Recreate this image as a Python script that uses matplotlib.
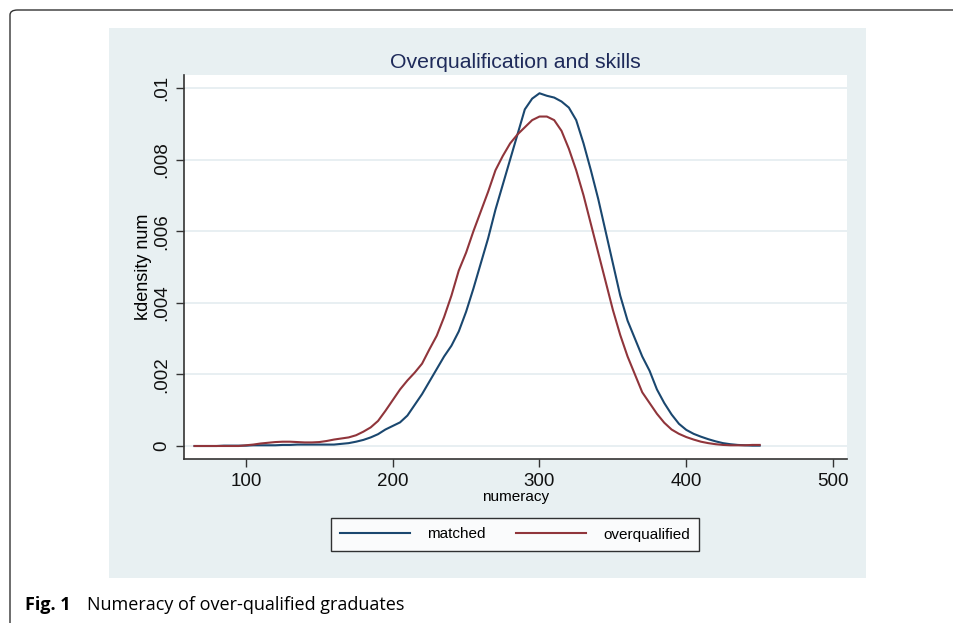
import matplotlib
matplotlib.use("Agg")
import matplotlib.pyplot as plt
from matplotlib.patches import Rectangle, FancyBboxPatch

# numeracy grid (step 5) and kernel density estimates
numeracy = list(range(65, 451, 5))
matched = [0, 0, 0, 0, 0.00001, 0.00001, 0.00001, 0.00001, 0.00002, 0.00002,
           0.00002, 0.00002, 0.00003, 0.00003, 0.00004, 0.00004, 0.00004,
           0.00004, 0.00004, 0.00004, 0.00006, 0.00008, 0.00012, 0.00017,
           0.00024, 0.00033, 0.00046, 0.00056, 0.00066, 0.00085, 0.00115,
           0.00145, 0.0018, 0.00215, 0.0025, 0.0028, 0.0032, 0.00375, 0.0044,
           0.0051, 0.0058, 0.0066, 0.0073, 0.0080, 0.0087, 0.0094, 0.0097,
           0.00985, 0.00978, 0.00973, 0.00962, 0.00945, 0.0091, 0.00845,
           0.0077, 0.0069, 0.0060, 0.0051, 0.0042, 0.0035, 0.0030, 0.0025,
           0.0021, 0.00158, 0.0012, 0.00088, 0.00062, 0.00045, 0.00034,
           0.00026, 0.00019, 0.00013, 0.00008, 0.00005, 0.00003, 0.00002,
           0.00001, 0.00001]
overqualified = [0, 0, 0, 0, 0, 0, 0, 0.00002, 0.00004, 0.00007, 0.00009,
                 0.00011, 0.00012, 0.00012, 0.00011, 0.0001, 0.0001, 0.00011,
                 0.00014, 0.00018, 0.00021, 0.00024, 0.0003, 0.0004, 0.00052,
                 0.0007, 0.00098, 0.00128, 0.00158, 0.00183, 0.00205, 0.0023,
                 0.0027, 0.00308, 0.0036, 0.0042, 0.0049, 0.0054, 0.0060,
                 0.00655, 0.0071, 0.0077, 0.0081, 0.00845, 0.0087, 0.0089,
                 0.0091, 0.0092, 0.0092, 0.0091, 0.0088, 0.0083, 0.0077,
                 0.0070, 0.0062, 0.0054, 0.0046, 0.0038, 0.0031, 0.0025,
                 0.0020, 0.0015, 0.0012, 0.0009, 0.00065, 0.00046, 0.00034,
                 0.00025, 0.00018, 0.00012, 0.00008, 0.00005, 0.00003,
                 0.00002, 0.00002, 0.00002, 0.00003, 0.00003]

xticks = [100, 200, 300, 400, 500]
yticks = [0, 0.002, 0.004, 0.006, 0.008, 0.01]
ytick_labels = ["0", ".002", ".004", ".006", ".008", ".01"]

plt.rcParams["font.family"] = ["Liberation Sans", "DejaVu Sans"]

W, H = 954, 623
fig = plt.figure(figsize=(W / 100, H / 100), dpi=100)

# journal frame and Stata graph region (drawn behind the axes)
frame = FancyBboxPatch((10 / W, 1 - 1000 / H), 1100 / W, 990 / H,
                       boxstyle="round,pad=0,rounding_size=0.008",
                       transform=fig.transFigure, facecolor="white",
                       edgecolor="#333333", linewidth=1.0, zorder=-2)
fig.patches.append(frame)
fig.patches.append(Rectangle((109 / W, 1 - 578 / H), 757 / W, 550 / H,
                             transform=fig.transFigure, facecolor="#e8f0f2",
                             edgecolor="none", zorder=-1))

ax = fig.add_axes([184 / W, 1 - 459 / H, 663 / W, 384 / H])
ax.set_zorder(1)
ax.set_facecolor("white")
ax.plot(numeracy, matched, color="#1a476f", linewidth=1.5, label="matched")
ax.plot(numeracy, overqualified, color="#90353b", linewidth=1.5,
        label="overqualified")

ax.set_xlim(57.8, 509.5)
ax.set_ylim(-0.000363, 0.01036)
ax.set_xticks(xticks)
ax.set_yticks(yticks)
ax.set_yticklabels(ytick_labels, rotation=90, va="center")
ax.tick_params(axis="both", labelsize=13.5, length=6, width=1.0,
               color="#333333", labelcolor="#111111", pad=4)
ax.grid(axis="y", color="#e6eef1", linewidth=1.3)
ax.set_axisbelow(True)
for side in ["top", "right"]:
    ax.spines[side].set_visible(False)
for side in ["left", "bottom"]:
    ax.spines[side].set_color("#333333")
    ax.spines[side].set_linewidth(1.2)

ax.set_xlabel("numeracy", fontsize=11, labelpad=0)
ax.set_ylabel("kdensity num", fontsize=13, labelpad=1)
ax.set_title("Overqualification and skills", fontsize=15.3, color="#1e2a5a",
             pad=5)

leg = fig.legend(loc="center", bbox_to_anchor=(515 / W, 1 - 534.5 / H),
                 ncol=2, fontsize=11, frameon=True, fancybox=False,
                 edgecolor="black", handlelength=4.6, handletextpad=1.1,
                 columnspacing=2.0, borderpad=0.6)
leg.get_frame().set_linewidth(1.0)
leg.set_zorder(3)

fig.text(25 / W, 1 - 605 / H, "Fig. 1", fontsize=13, fontweight="bold",
         family=["Open Sans", "DejaVu Sans"], va="center", ha="left")
fig.text(87 / W, 1 - 605 / H, "Numeracy of over-qualified graduates",
         fontsize=13, family=["Open Sans", "DejaVu Sans"], va="center",
         ha="left")

fig.savefig("out.png", dpi=100)
